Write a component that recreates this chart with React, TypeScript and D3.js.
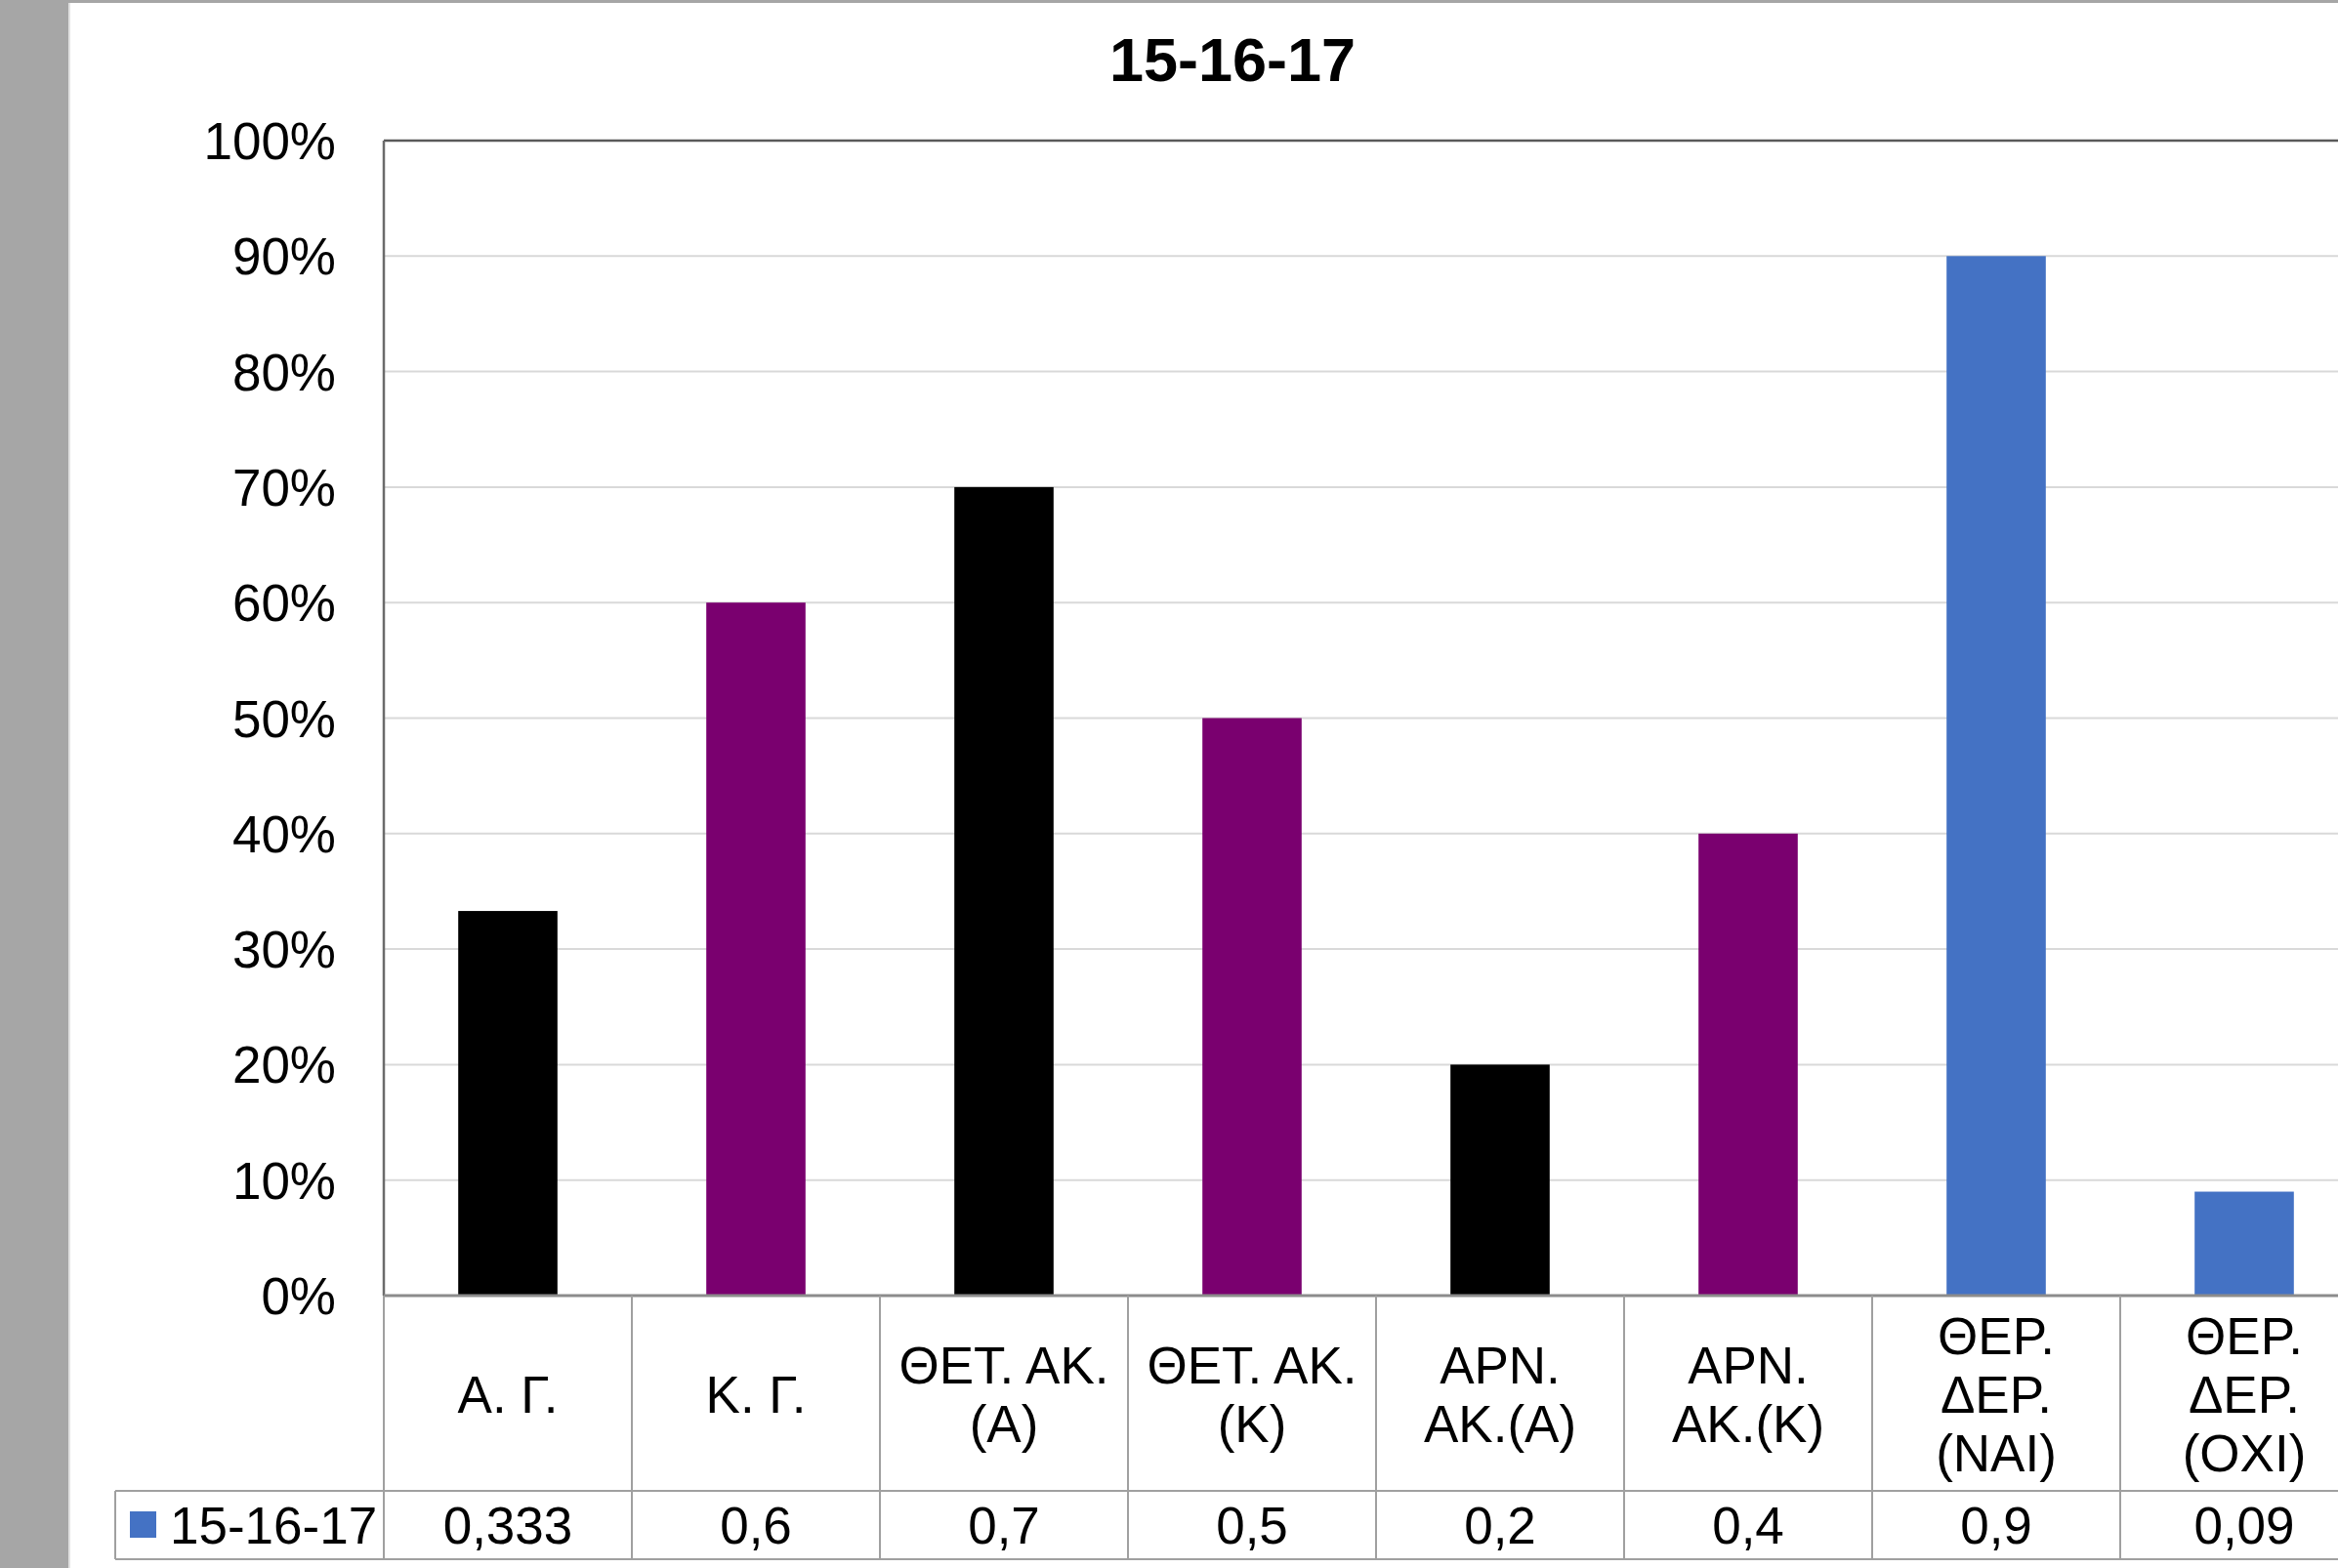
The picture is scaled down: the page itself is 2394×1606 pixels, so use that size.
import { useEffect, useRef } from "react";
import * as d3 from "d3";

const title = "15-16-17";
const seriesName = "15-16-17";
const categories = [
  "Α. Γ.",
  "Κ. Γ.",
  "ΘΕΤ. ΑΚ.\n(Α)",
  "ΘΕΤ. ΑΚ.\n(Κ)",
  "ΑΡΝ.\nΑΚ.(Α)",
  "ΑΡΝ.\nΑΚ.(Κ)",
  "ΘΕΡ.\nΔΕΡ.\n(ΝΑΙ)",
  "ΘΕΡ.\nΔΕΡ.\n(ΟΧΙ)",
];
const values = [0.333, 0.6, 0.7, 0.5, 0.2, 0.4, 0.9, 0.09];
const valueLabels = ["0,333", "0,6", "0,7", "0,5", "0,2", "0,4", "0,9", "0,09"];
const barColors = ["#000000", "#7a006f", "#000000", "#7a006f", "#000000", "#7a006f", "#4472c4", "#4472c4"];
const yTicks = [0, 0.1, 0.2, 0.3, 0.4, 0.5, 0.6, 0.7, 0.8, 0.9, 1];

const W = 2394;
const H = 1606;
const FONT = "'Liberation Sans', Arial, sans-serif";

export default function App() {
  const ref = useRef<SVGSVGElement>(null);

  useEffect(() => {
    document.body.style.margin = "0";
    const svg = d3.select(ref.current);
    svg.selectAll("*").remove();

    const left = 393;
    const top = 144;
    const bottom = 1327;
    const step = 254;
    const catRow = 1527;
    const tableBottom = 1597;
    const legendLeft = 118;

    // page frame
    svg.append("rect").attr("width", W).attr("height", H).attr("fill", "#ffffff");
    svg.append("rect").attr("x", 0).attr("y", 0).attr("width", 70).attr("height", H).attr("fill", "#a6a6a6");
    svg.append("rect").attr("x", 70).attr("y", 0).attr("width", 2).attr("height", H).attr("fill", "#e2e2e2");
    svg.append("rect").attr("x", 0).attr("y", 0).attr("width", W).attr("height", 3).attr("fill", "#a6a6a6");

    const x = d3
      .scaleBand<string>()
      .domain(categories)
      .range([left, left + step * categories.length])
      .paddingInner(0.6)
      .paddingOuter(0.3);
    const cell = d3.scaleBand<string>().domain(categories).range([left, left + step * categories.length]);
    const y = d3.scaleLinear().domain([0, 1]).range([bottom, top]);

    // gridlines
    svg
      .append("g")
      .selectAll("line")
      .data(yTicks.filter((t) => t > 0 && t < 1))
      .join("line")
      .attr("x1", left)
      .attr("x2", W)
      .attr("y1", (d) => y(d))
      .attr("y2", (d) => y(d))
      .attr("stroke", "#d9d9d9")
      .attr("stroke-width", 2);

    // y tick labels
    svg
      .append("g")
      .selectAll("text")
      .data(yTicks)
      .join("text")
      .attr("x", 344)
      .attr("y", (d) => y(d))
      .attr("dy", "0.36em")
      .attr("text-anchor", "end")
      .attr("font-family", FONT)
      .attr("font-size", 53)
      .attr("fill", "#000")
      .text((d) => d3.format(".0%")(d));

    // bars
    svg
      .append("g")
      .selectAll("rect")
      .data(values)
      .join("rect")
      .attr("x", (_, i) => x(categories[i])!)
      .attr("width", x.bandwidth())
      .attr("y", (d) => y(d))
      .attr("height", (d) => bottom - y(d))
      .attr("fill", (_, i) => barColors[i]);

    // plot border: top and left
    svg.append("line").attr("x1", left).attr("x2", W).attr("y1", top).attr("y2", top).attr("stroke", "#595959").attr("stroke-width", 2.5);
    svg.append("line").attr("x1", left).attr("x2", left).attr("y1", top).attr("y2", bottom).attr("stroke", "#6b6b6b").attr("stroke-width", 2.5);

    // data table
    const grid = svg.append("g").attr("stroke", "#a0a0a0").attr("stroke-width", 2);
    grid.append("line").attr("x1", left).attr("x2", W).attr("y1", bottom).attr("y2", bottom).attr("stroke", "#8c8c8c").attr("stroke-width", 3);
    grid.append("line").attr("x1", legendLeft).attr("x2", W).attr("y1", catRow).attr("y2", catRow);
    grid.append("line").attr("x1", legendLeft).attr("x2", W).attr("y1", tableBottom).attr("y2", tableBottom);
    grid.append("line").attr("x1", legendLeft).attr("x2", legendLeft).attr("y1", catRow).attr("y2", tableBottom);
    grid
      .selectAll("line.sep")
      .data(categories)
      .join("line")
      .attr("class", "sep")
      .attr("x1", (d) => cell(d)!)
      .attr("x2", (d) => cell(d)!)
      .attr("y1", bottom)
      .attr("y2", tableBottom);

    // category labels
    const lineH = 60;
    const catMid = (bottom + catRow) / 2 + 1;
    svg
      .append("g")
      .selectAll("text")
      .data(categories)
      .join("text")
      .attr("text-anchor", "middle")
      .attr("font-family", FONT)
      .attr("font-size", 53)
      .attr("fill", "#000")
      .each(function (d) {
        const lines = d.split("\n");
        const cx = cell(d)! + cell.bandwidth() / 2;
        const t = d3.select(this);
        lines.forEach((ln, k) => {
          t.append("tspan")
            .attr("x", cx)
            .attr("y", catMid + (k - (lines.length - 1) / 2) * lineH)
            .attr("dy", "0.36em")
            .text(ln);
        });
      });

    // value row
    const valMid = (catRow + tableBottom) / 2;
    svg
      .append("g")
      .selectAll("text")
      .data(valueLabels)
      .join("text")
      .attr("x", (_, i) => cell(categories[i])! + cell.bandwidth() / 2)
      .attr("y", valMid)
      .attr("dy", "0.36em")
      .attr("text-anchor", "middle")
      .attr("font-family", FONT)
      .attr("font-size", 53)
      .attr("fill", "#000")
      .text((d) => d);

    // legend key
    svg.append("rect").attr("x", 133).attr("y", 1548).attr("width", 27).attr("height", 27).attr("fill", "#4472c4");
    svg
      .append("text")
      .attr("x", 174)
      .attr("y", valMid)
      .attr("dy", "0.36em")
      .attr("font-family", FONT)
      .attr("font-size", 53)
      .attr("fill", "#000")
      .text(seriesName);

    // title
    svg
      .append("text")
      .attr("x", 1262)
      .attr("y", 83)
      .attr("text-anchor", "middle")
      .attr("font-family", FONT)
      .attr("font-size", 63)
      .attr("font-weight", "bold")
      .attr("fill", "#000")
      .text(title);
  }, []);

  return (
    <div style={{ position: "absolute", left: 0, top: 0, width: W, height: H, overflow: "hidden" }}>
      <svg ref={ref} width={W} height={H} viewBox={`0 0 ${W} ${H}`} style={{ display: "block" }} />
    </div>
  );
}
